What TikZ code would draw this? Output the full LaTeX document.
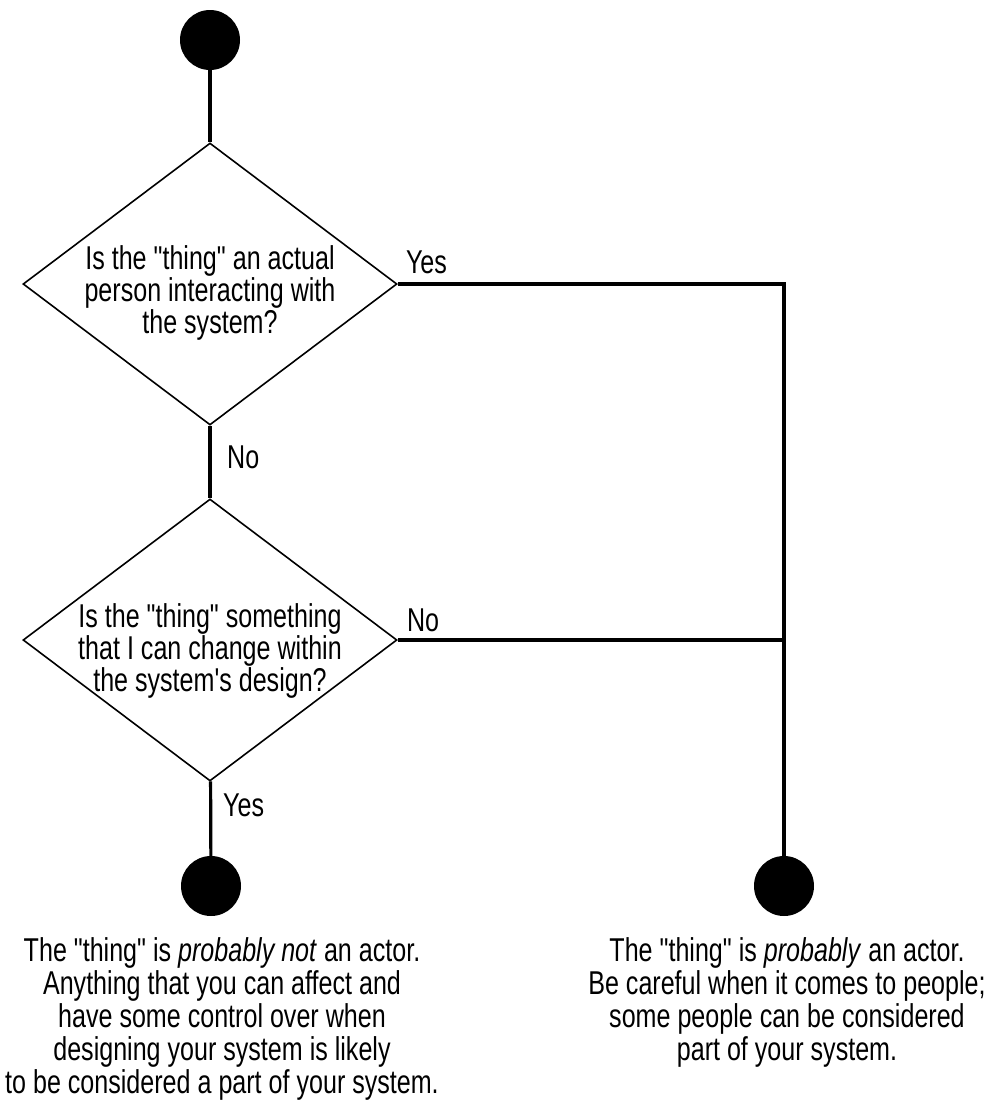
\documentclass[tikz,border=0pt]{standalone}
\usepackage{fontspec}
\setmainfont[FakeStretch=0.76, Ligatures=TeXOff]{Liberation Sans}
\usetikzlibrary{shapes.geometric}
\newcommand{\ink}{black}
\tikzset{
  blob/.style = {circle, fill=\ink, minimum size=60pt, inner sep=0pt},
  decision/.style = {diamond, draw=\ink, line width=1.6pt, minimum width=374pt, minimum height=282pt, inner sep=0pt},
  question/.style = {align=center, inner sep=0pt, font=\fontsize{33}{29}\selectfont},
  outcome/.style = {align=center, inner sep=0pt, anchor=north, font=\fontsize{33}{33}\selectfont},
  answer/.style = {inner sep=0pt, anchor=base west, font=\fontsize{33}{33}\selectfont},
  flow/.style = {draw=\ink, line width=3.2pt},
}

\begin{document}
\begin{tikzpicture}[x=1pt, y=-1pt]
        \useasboundingbox (0,0) rectangle (987,1101);
        %\draw[gray!30] (0,0) grid[step=100] (987,1101);
        \node[blob] (start) at (210,40) {};
        \node[decision] (q1) at (210,284) {};
        \node[question, yshift=-9pt] (q1text) at (q1) {Is the "thing" an actual\\person interacting with\\the system?};
        \node[decision] (q2) at (210,640) {};
        \node[question, yshift=-11pt] (q2text) at (q2) {Is the "thing" something\\that I can change within\\the system's design?};
        \node[blob] (notactor) at (211,886) {};
        \node[blob] (actor) at (784,886) {};
        % outcomes
        \node[outcome] (notactortext) at (222,937) {The "thing" is \textit{probably not} an actor.\\Anything that you can affect and\\have some control over when\\designing your system is likely\\to be considered a part of your system.};
        \node[outcome] (actortext) at (787,937) {The "thing" is \textit{probably} an actor.\\Be careful when it comes to people;\\some people can be considered\\part of your system.};
        % flow lines
        \draw[flow] (start) -- (q1);
        \draw[flow] (q1) -- (q2);
        \draw[flow] (q2) -- (notactor);
        \draw[flow] (q1.east) -- (q1.east -| actor) -- (actor);
        \draw[flow] (q2.east) -- (q2.east -| actor);
        \node[answer] (yes1) at ([xshift=8pt, yshift=11pt]q1.east) {Yes};
        \node[answer] (no1) at ([xshift=17pt, yshift=-43pt]q1.south) {No};
        \node[answer] (no2) at ([xshift=9pt, yshift=9pt]q2.east) {No};
        \node[answer] (yes2) at ([xshift=13pt, yshift=-35pt]q2.south) {Yes};
\end{tikzpicture}
\end{document}
